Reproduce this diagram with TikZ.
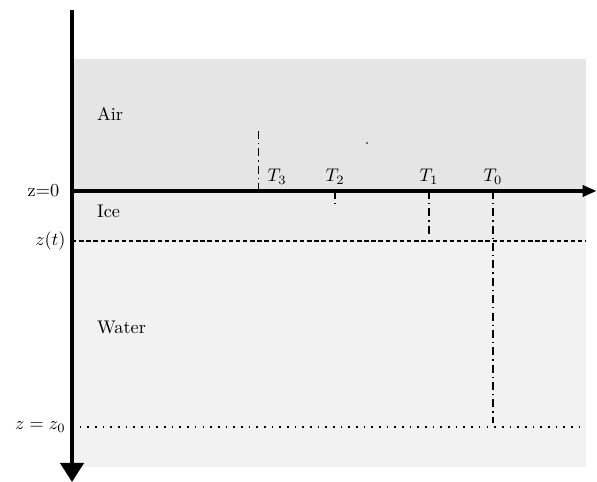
\documentclass[tikz,border=0pt]{standalone}
\usetikzlibrary{arrows.meta}
\begin{document}
\begin{tikzpicture}[
    axis/.style={line width=2.4pt},
    front/.style={line width=1.3pt, dash pattern=on 2.4pt off 1.5pt},
    probe/.style={line width=0.8pt, dash pattern=on 4.4pt off 2.2pt on 0.7pt off 2.2pt},
    depth/.style={line width=1.1pt, dash pattern=on 0.9pt off 3.3pt},
    layer/.style={anchor=west}]
  \useasboundingbox (-1.385,-5.596) rectangle (10.096,3.673);
  % the three layers, darkest on top
  \fill[gray!20] (0,0) rectangle (9.885,2.538);
  \fill[gray!15] (0,0) rectangle (9.885,-0.962);
  \fill[gray!10] (0,-0.962) rectangle (9.885,-5.308);
  \node[layer] (air) at (0.36,1.48) {Air};
  \node[layer] (ice) at (0.36,-0.40) {Ice};
  \node[layer] (water) at (0.36,-2.62) {Water};
  % moving ice front and the bottom depth
  \draw[front] (0,-0.962) -- (9.885,-0.962);
  \draw[depth] (0,-4.538) -- (9.885,-4.538);
  \node[left] (zt) at (0,-0.962) {$z(t)$};
  \node[left] (zz) at (0,-4.538) {$z = z_0$};
  \node[left, xshift=-3.5pt] (z0) at (0,0) {z=0};
  % temperature probes
  \draw[probe] (3.587,0) -- (3.587,1.21);
  \node[above right, xshift=1.5pt] (T3) at (3.587,0) {$T_3$};
  \foreach \x/\y/\i in {5.058/-0.27/2, 6.865/-0.885/1, 8.096/-4.46/0} {
    \draw[probe] (\x,0) -- (\x,\y);
    \node[above] (T\i) at (\x,0) {$T_\i$};
  }
  \fill (5.673,0.923) circle (0.45pt);
  % axes
  \draw[line width=1.9pt, -{Triangle[length=7.7pt, width=6pt]}] (0,0) -- (10.09,0);
  \draw[axis, -{Triangle[length=10.4pt, width=12.6pt]}] (0,3.481) -- (0,-5.596);
\end{tikzpicture}
\end{document}
